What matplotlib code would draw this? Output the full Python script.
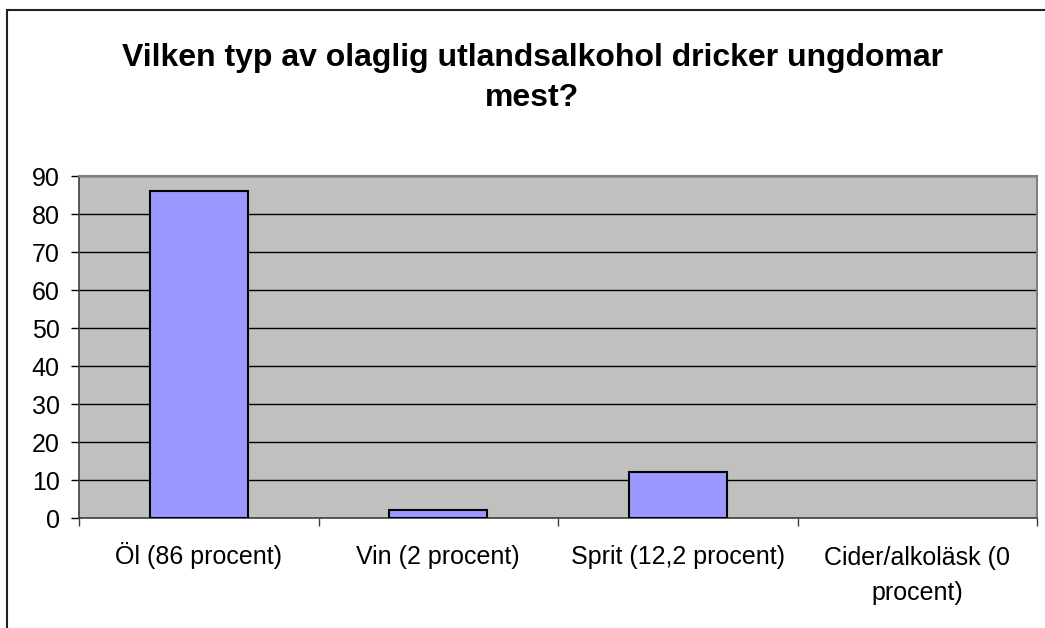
import numpy as np
import matplotlib.pyplot as plt
from matplotlib.patches import Rectangle
from matplotlib.transforms import ScaledTranslation

plt.rcParams['font.family'] = ['Liberation Sans', 'DejaVu Sans']

categories = ["Öl (86 procent)", "Vin (2 procent)", "Sprit (12,2 procent)", "Cider/alkoläsk (0\nprocent)"]
values = [86, 2, 12.2, 0]
yticks = list(range(0, 91, 10))

fig = plt.figure(figsize=(10.45, 6.28), dpi=100)
ax = fig.add_axes([79/1045, 1-518/628, (1037-79)/1045, (518-176)/628])

x = np.arange(len(categories))
ax.set_facecolor("#C0C0C0")
ax.set_axisbelow(True)
ax.yaxis.grid(True, color="black", linewidth=1)
edges = ["black" if v > 0 else "none" for v in values]
ax.bar(x, values, width=0.41, color="#9999FF", edgecolor=edges, linewidth=1.5, zorder=3)

ax.set_xlim(-0.5, len(categories) - 0.5)
ax.set_ylim(0, 90)
ax.set_yticks(yticks)
ax.tick_params(axis="y", labelsize=18, length=6, width=1, pad=8)

ax.set_xticks(x)
ax.set_xticklabels(categories, fontsize=18, linespacing=1.55)
ax.tick_params(axis="x", which="major", length=0, pad=33)
for lab in ax.get_xticklabels():
    lab.set_va("baseline")
    # baseline of multi-line text is its last line, push it down one line
    n = lab.get_text().count("\n")
    if n:
        lab.set_transform(lab.get_transform() + ScaledTranslation(0, -0.36 * n, fig.dpi_scale_trans))
ax.set_xticks(np.arange(-0.5, len(categories)), minor=True)
ax.tick_params(axis="x", which="minor", length=6, width=1, color="#404040")

for s in ["top", "right"]:
    ax.spines[s].set_color("#808080")
    ax.spines[s].set_linewidth(1.5)
for s in ["left", "bottom"]:
    ax.spines[s].set_color("#404040")
    ax.spines[s].set_linewidth(1.2)

fig.text(532/1045, 1-58/628, "Vilken typ av olaglig utlandsalkohol dricker ungdomar",
         ha="center", va="center", fontsize=23, fontweight="bold")
fig.text(532/1045, 1-98/628, "mest?",
         ha="center", va="center", fontsize=23, fontweight="bold")

fig.patches.append(Rectangle((7/1045, -0.1), 1.2, 1 - 10/628 + 0.1, transform=fig.transFigure,
                             fill=False, edgecolor="#202020", linewidth=1.5))

fig.savefig("out.png", dpi=100)
